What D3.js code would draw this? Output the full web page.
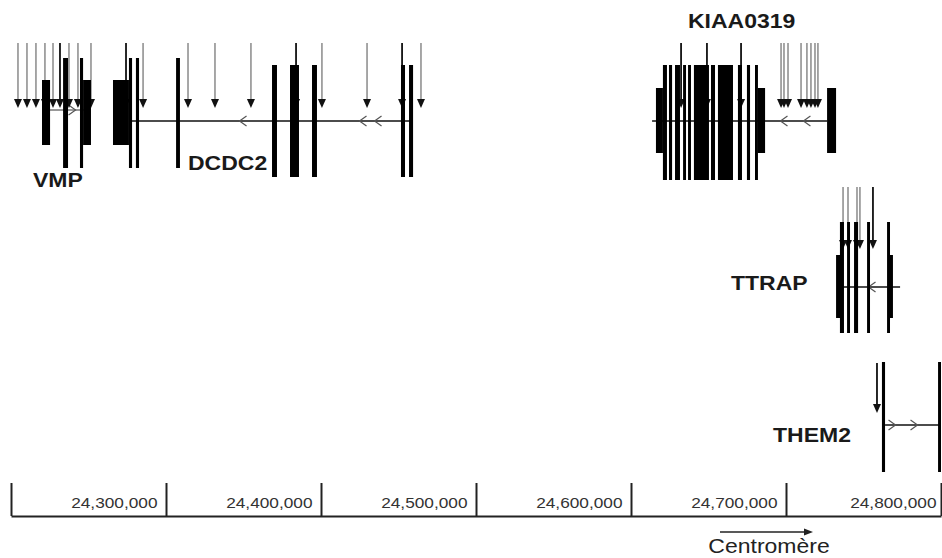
<!DOCTYPE html>
<html><head><meta charset="utf-8">
<script src="https://cdn.jsdelivr.net/npm/d3@7/dist/d3.min.js"></script>
<style>body{margin:0;background:#fff}svg{display:block}text{font-family:"Liberation Sans",Arial,sans-serif}</style>
</head><body><svg id="c" width="942" height="558"></svg>
<script>
// ---------- DATA (positions in kb on the chromosome) ----------
const axisTicks = [24200000, 24300000, 24400000, 24500000, 24600000, 24700000, 24800000];
const genes       = ['VMP', 'DCDC2', 'KIAA0319', 'TTRAP', 'THEM2'];
const geneStrand  = ['+', '-', '-', '-', '+'];
const intronStart = [24222.6, 24276.1, 24613.6, 24736.1, 24763.9];
const intronEnd   = [24249.0, 24458.1, 24726.5, 24773.6, 24799.4];

// exons: [gene, start kb, end kb, kind, lane]
const exons = [
  ['VMP', 24220.0, 24225.2, 'box', 0],
  ['VMP', 24233.6, 24236.8, 'bar', 0],
  ['VMP', 24244.5, 24246.5, 'bar', 0],
  ['VMP', 24246.5, 24251.6, 'box', 0],
  ['DCDC2', 24265.8, 24276.1, 'box', 0],
  ['DCDC2', 24276.1, 24278.1, 'bar', 0],
  ['DCDC2', 24280.6, 24282.6, 'bar', 0],
  ['DCDC2', 24306.5, 24309.0, 'bar', 0],
  ['DCDC2', 24368.4, 24371.6, 'bar', 1],
  ['DCDC2', 24380.0, 24385.8, 'bar', 1],
  ['DCDC2', 24394.2, 24397.4, 'bar', 1],
  ['DCDC2', 24451.6, 24454.2, 'bar', 1],
  ['DCDC2', 24456.8, 24459.4, 'bar', 1],
  ['KIAA0319', 24616.1, 24620.6, 'box', 2],
  ['KIAA0319', 24620.6, 24623.2, 'bar', 2],
  ['KIAA0319', 24624.5, 24626.5, 'bar', 2],
  ['KIAA0319', 24628.4, 24631.6, 'bar', 2],
  ['KIAA0319', 24633.6, 24635.5, 'bar', 2],
  ['KIAA0319', 24636.8, 24638.7, 'bar', 2],
  ['KIAA0319', 24640.6, 24650.3, 'bar', 2],
  ['KIAA0319', 24651.6, 24654.2, 'bar', 2],
  ['KIAA0319', 24656.1, 24665.8, 'bar', 2],
  ['KIAA0319', 24669.0, 24671.6, 'bar', 2],
  ['KIAA0319', 24674.8, 24676.8, 'bar', 2],
  ['KIAA0319', 24680.0, 24681.9, 'bar', 2],
  ['KIAA0319', 24681.9, 24686.5, 'box', 2],
  ['KIAA0319', 24726.5, 24732.3, 'box', 2],
  ['TTRAP', 24732.3, 24736.1, 'box', 3],
  ['TTRAP', 24734.8, 24737.4, 'bar', 3],
  ['TTRAP', 24739.4, 24741.3, 'bar', 3],
  ['TTRAP', 24743.9, 24746.5, 'bar', 3],
  ['TTRAP', 24752.3, 24754.2, 'bar', 3],
  ['TTRAP', 24765.2, 24767.1, 'bar', 3],
  ['TTRAP', 24766.5, 24769.0, 'box', 3],
  ['THEM2', 24761.9, 24763.9, 'bar', 4],
  ['THEM2', 24798.1, 24800.0, 'bar', 4]
];

// SNP markers: [gene, kb, kind]  (k = black, g = grey)
const snps = [
  ['VMP', 24204.5, 'g'], ['VMP', 24210.3, 'g'], ['VMP', 24216.1, 'g'], ['VMP', 24221.9, 'g'],
  ['VMP', 24227.1, 'g'], ['VMP', 24231.6, 'k'], ['VMP', 24237.4, 'g'], ['VMP', 24243.2, 'g'],
  ['VMP', 24251.6, 'g'],
  ['DCDC2', 24274.2, 'k'], ['DCDC2', 24285.2, 'g'], ['DCDC2', 24314.2, 'g'], ['DCDC2', 24331.6, 'g'],
  ['DCDC2', 24354.8, 'g'], ['DCDC2', 24383.9, 'k'], ['DCDC2', 24400.6, 'g'], ['DCDC2', 24429.7, 'g'],
  ['DCDC2', 24452.3, 'k'], ['DCDC2', 24464.5, 'g'],
  ['KIAA0319', 24632.3, 'k'], ['KIAA0319', 24649.0, 'k'], ['KIAA0319', 24671.0, 'k'],
  ['KIAA0319', 24696.8, 'g'], ['KIAA0319', 24698.7, 'g'], ['KIAA0319', 24701.3, 'g'],
  ['KIAA0319', 24709.7, 'g'], ['KIAA0319', 24713.5, 'g'], ['KIAA0319', 24716.1, 'g'],
  ['KIAA0319', 24718.7, 'g'], ['KIAA0319', 24720.6, 'g'],
  ['TTRAP', 24736.8, 'g'], ['TTRAP', 24740.0, 'g'], ['TTRAP', 24745.8, 'g'], ['TTRAP', 24747.7, 'g'],
  ['TTRAP', 24756.1, 'k'],
  ['THEM2', 24758.7, 'k']
];

// strand direction marks along introns: [gene, kb]
const chevrons = [
  ['VMP', 24239.4], ['DCDC2', 24349.7], ['DCDC2', 24427.1], ['DCDC2', 24436.8],
  ['KIAA0319', 24698.7], ['KIAA0319', 24713.5], ['TTRAP', 24755.5],
  ['THEM2', 24768.4], ['THEM2', 24782.6]
];

// ---------- LAYOUT ----------
const svg = d3.select('#c');
const x = d3.scaleLinear().domain([24200000, 24800000]).range([11, 941]);
const xk = kb => x(kb * 1000);

const geneLineY = d3.scaleOrdinal().domain(genes).range([110, 121, 121, 287, 425]);
const geneRowOf = d3.scaleOrdinal().domain(genes).range([0, 0, 0, 1, 2]);
const rowArrow = [{top: 43, tip: 108}, {top: 187, tip: 249}, {top: 363, tip: 413}];
const lanes = [
  {bar: [58, 168], box: [80, 145]},
  {bar: [65, 177], box: [88, 153]},
  {bar: [65, 180], box: [88, 153]},
  {bar: [222, 333], box: [255, 318]},
  {bar: [362, 472], box: [380, 450]}
];
const labelPos = {
  'VMP': [33, 187], 'DCDC2': [188, 170], 'KIAA0319': [688, 28], 'TTRAP': [731, 290], 'THEM2': [773, 442]
};
const snpColor = d3.scaleOrdinal().domain(['g', 'k']).range(['#8a8a8a', '#111']);

// introns
svg.append('g').selectAll('line').data(genes).join('line')
  .attr('x1', (g, i) => xk(intronStart[i])).attr('x2', (g, i) => xk(intronEnd[i]))
  .attr('y1', g => geneLineY(g)).attr('y2', g => geneLineY(g))
  .attr('stroke', (g) => g === 'VMP' ? '#777' : '#111').attr('stroke-width', 1.4);

// chevrons
svg.append('g').selectAll('path').data(chevrons).join('path')
  .attr('d', d => {
    const gi = genes.indexOf(d[0]);
    const cx = xk(d[1]), cy = geneLineY(d[0]);
    const dir = geneStrand[gi] === '+' ? 1 : -1;
    return `M${cx - dir * 3.5},${cy - 5} L${cx + dir * 3.5},${cy} L${cx - dir * 3.5},${cy + 5}`;
  })
  .attr('fill', 'none').attr('stroke', '#555').attr('stroke-width', 1.2);

// SNP arrows
const ag = svg.append('g');
snps.forEach(s => {
  const r = rowArrow[geneRowOf(s[0])];
  const cx = xk(s[1]);
  ag.append('line').attr('x1', cx).attr('x2', cx).attr('y1', r.top).attr('y2', r.tip - 7)
    .attr('stroke', snpColor(s[2])).attr('stroke-width', s[2] === 'k' ? 1.8 : 1.5);
  ag.append('path').attr('d', `M${cx - 4},${r.tip - 9} L${cx + 4},${r.tip - 9} L${cx},${r.tip} Z`)
    .attr('fill', '#111');
});

// exons
svg.append('g').selectAll('rect').data(exons).join('rect')
  .attr('x', d => xk(d[1])).attr('width', d => Math.max(2, xk(d[2]) - xk(d[1])))
  .attr('y', d => lanes[d[4]][d[3]][0])
  .attr('height', d => lanes[d[4]][d[3]][1] - lanes[d[4]][d[3]][0])
  .attr('fill', '#000');

// gene labels
svg.append('g').selectAll('text').data(genes).join('text')
  .attr('transform', g => `translate(${labelPos[g][0]},${labelPos[g][1]}) scale(1.15,1)`)
  .attr('font-size', 20).attr('font-weight', 'bold').attr('fill', '#1a1a1a')
  .text(g => g);

// axis
const axis = svg.append('g').attr('transform', 'translate(0,516)')
  .call(d3.axisBottom(x).tickValues(axisTicks).tickSize(-33).tickSizeOuter(0).tickFormat(d3.format(',')));
axis.select('.domain').attr('stroke', '#222').attr('stroke-width', 2);
axis.selectAll('.tick line').attr('stroke', '#222').attr('stroke-width', 2);
axis.selectAll('.tick text')
  .attr('x', 0).attr('y', 0).attr('dy', 0)
  .attr('transform', d => d === 24800000 ? 'translate(-5,-8) scale(1.15,1)' : 'translate(-9,-8) scale(1.15,1)')
  .attr('text-anchor', 'end').attr('font-size', 15).attr('fill', '#333')
  .attr('font-family', '"Liberation Sans",Arial,sans-serif');
axis.selectAll('.tick').filter(d => d === 24200000).select('text').remove();

// centromere direction
svg.append('line').attr('x1', 720).attr('x2', 806).attr('y1', 532).attr('y2', 532)
  .attr('stroke', '#222').attr('stroke-width', 1.3);
svg.append('path').attr('d', 'M813,532 L804,528.5 L804,535.5 Z').attr('fill', '#222');
svg.append('text').attr('transform', 'translate(769,553) scale(1.15,1)')
  .attr('text-anchor', 'middle').attr('font-size', 20).attr('fill', '#222').text('Centromère');
</script></body></html>
